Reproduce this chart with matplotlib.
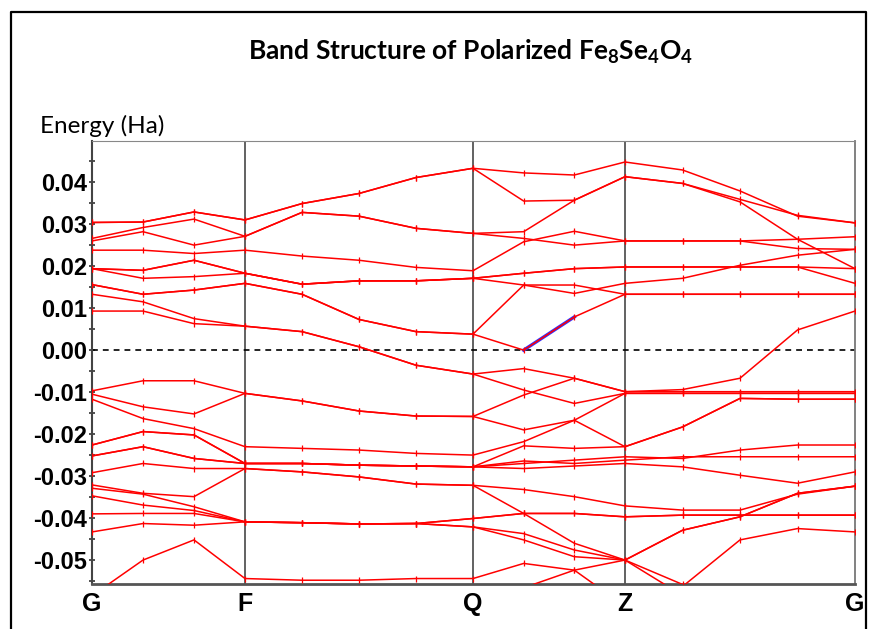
import numpy as np
import matplotlib
matplotlib.use("Agg")
import matplotlib.pyplot as plt
from matplotlib.lines import Line2D
from matplotlib.ticker import MultipleLocator, FuncFormatter

# high-symmetry path G-F-Q-Z-G and the number of k-steps sampled on each leg
k_labels = ["G", "F", "Q", "Z", "G"]
leg_lengths = [1.53, 2.28, 1.52, 2.30]
leg_steps = [3, 4, 3, 4]

# band energies (mHa) at the 15 sampled k-points, bands above the gap at G
bands_upper = [
    [30.4, 30.5, 32.9, 31.0, 34.9, 37.3, 41.1, 43.3, 42.2, 41.7, 44.8, 42.9, 37.9, 31.9, 30.3],
    [30.4, 30.5, 32.9, 31.0, 34.9, 37.3, 41.1, 43.3, 35.5, 35.7, 41.3, 39.7, 35.9, 32.1, 30.3],
    [26.6, 29.2, 31.2, 27.1, 32.8, 31.9, 29.0, 27.8, 28.2, 35.7, 41.3, 39.7, 35.3, 26.4, 19.4],
    [26.0, 28.2, 25.0, 27.1, 32.8, 31.9, 29.0, 27.8, 26.6, 25.0, 26.0, 26.0, 26.0, 26.4, 27.0],
    [23.8, 23.8, 23.0, 23.8, 22.4, 21.4, 19.7, 18.9, 25.8, 28.3, 26.0, 26.0, 26.0, 24.2, 24.0],
    [19.4, 19.0, 21.4, 18.3, 15.7, 16.5, 16.5, 17.1, 18.3, 19.4, 19.8, 19.8, 19.8, 19.8, 19.4],
    [19.4, 19.0, 21.4, 18.3, 15.7, 16.5, 16.5, 17.1, 18.3, 19.4, 19.8, 19.8, 19.8, 19.8, 15.9],
    [19.4, 17.1, 17.5, 18.3, 15.7, 16.5, 16.5, 17.1, 15.5, 13.5, 15.9, 17.1, 20.2, 22.6, 24.0],
    [15.6, 13.3, 14.3, 15.9, 13.3, 7.3, 4.4, 3.8, 15.5, 15.5, 13.3, 13.3, 13.3, 13.3, 13.3],
    [15.6, 13.3, 14.3, 15.9, 13.3, 7.3, 4.4, 3.8, 0.0, 7.9, 13.3, 13.3, 13.3, 13.3, 13.3],
    [13.3, 11.5, 7.5, 5.7, 4.4, 0.8, -3.6, -5.7, -4.4, -6.7, -9.9, -9.4, -6.7, 4.8, 9.3],
    [9.3, 9.3, 6.3, 5.7, 4.4, 0.8, -3.6, -5.7, -9.5, -12.7, -10.3, -10.3, -10.3, -10.3, -10.3],
]

# bands below the gap at G
bands_lower = [
    [-9.7, -7.3, -7.3, -10.3, -12.1, -14.5, -15.7, -15.8, -10.7, -6.7, -9.9, -9.9, -9.9, -9.9, -9.9],
    [-10.5, -13.5, -15.2, -10.3, -12.1, -14.5, -15.7, -15.8, -19.0, -16.7, -10.3, -10.3, -10.3, -10.3, -10.3],
    [-11.7, -16.3, -18.7, -23.0, -23.4, -23.8, -24.6, -25.0, -21.8, -16.7, -23.0, -18.3, -11.5, -11.7, -11.7],
    [-22.6, -19.4, -20.2, -27.0, -27.0, -27.4, -27.6, -27.8, -22.8, -23.4, -23.0, -18.3, -11.5, -11.7, -11.7],
    [-25.2, -23.0, -25.8, -27.0, -27.0, -27.4, -27.6, -27.8, -27.0, -26.2, -25.4, -25.8, -23.8, -22.6, -22.6],
    [-25.2, -23.0, -25.8, -27.0, -27.0, -27.4, -27.6, -27.8, -26.4, -27.0, -26.2, -25.4, -25.4, -25.4, -25.4],
    [-22.6, -19.4, -20.2, -27.0, -27.0, -27.4, -27.6, -27.8, -28.2, -27.6, -27.0, -27.8, -29.8, -31.7, -29.0],
    [-29.2, -27.0, -28.2, -28.2, -29.0, -30.2, -31.9, -32.2, -33.2, -34.9, -37.1, -38.1, -38.1, -34.3, -32.4],
    [-32.1, -34.1, -34.9, -28.2, -29.0, -30.2, -31.9, -32.2, -38.9, -46.0, -50.0, -42.9, -39.7, -34.1, -32.4],
    [-32.9, -34.3, -37.3, -40.9, -41.1, -41.4, -41.3, -40.1, -38.9, -38.9, -39.7, -39.3, -39.3, -39.3, -39.3],
    [-34.7, -36.9, -38.2, -40.9, -41.1, -41.4, -41.3, -42.1, -43.7, -47.6, -50.0, -58.4, -66.0, -72.0, -78.0],
    [-39.0, -38.9, -38.9, -40.9, -41.1, -41.4, -41.3, -42.1, -45.2, -49.2, -50.0, -55.8, -62.0, -68.0, -74.0],
    [-43.3, -41.3, -41.7, -40.9, -41.1, -41.4, -41.3, -40.1, -38.9, -38.9, -39.7, -39.3, -39.3, -39.3, -39.3],
    [-58.5, -50.0, -45.2, -54.4, -54.8, -54.8, -54.4, -54.4, -50.8, -52.4, -61.0, -68.0, -74.0, -80.0, -86.0],
    [-70.0, -70.0, -70.0, -70.0, -70.0, -70.0, -70.0, -66.0, -56.6, -52.4, -50.0, -42.9, -39.7, -34.1, -32.4],
    [-70.0, -70.0, -70.0, -70.0, -70.0, -70.0, -70.0, -70.0, -70.0, -70.0, -64.0, -56.3, -45.2, -42.5, -43.3],
]

# selected band (index into bands_upper) and the k-point span drawn highlighted
highlight_band = 9
highlight_span = (8, 9)

plt.rcParams["axes.unicode_minus"] = False
plt.rcParams["mathtext.fontset"] = "custom"
plt.rcParams["mathtext.rm"] = "Lato:bold"

nodes = np.concatenate([[0.0], np.cumsum(leg_lengths)])
kpts = np.concatenate([np.linspace(nodes[i], nodes[i + 1], n + 1)[:-1]
                       for i, n in enumerate(leg_steps)] + [nodes[-1:]])

W, H = 870, 629
fig = plt.figure(figsize=(W / 100, H / 100), dpi=100)
ax = fig.add_axes([92 / W, 1 - 584 / H, (855 - 92) / W, (584 - 141) / H])

for band in bands_upper + bands_lower:
    ax.plot(kpts, np.array(band) / 1000, color="#ff0000", lw=1.1,
            marker="|", ms=5, mew=0.9, zorder=3)

hb = np.array(bands_upper[highlight_band]) / 1000
i0, i1 = highlight_span
ax.plot(kpts[i0:i1 + 1], hb[i0:i1 + 1], color="#3030ff", lw=2.4, zorder=2.5)

for x in nodes[1:-1]:
    ax.axvline(x, color="#555555", lw=1.3, zorder=1)
ax.axhline(0, color="black", lw=1.2, ls=(0, (3.5, 3)), zorder=2)

ax.set_xlim(nodes[0], nodes[-1])
ax.set_ylim(-0.0557, 0.0498)

ax.yaxis.set_major_locator(MultipleLocator(0.01))
ax.yaxis.set_minor_locator(MultipleLocator(0.005))
ax.yaxis.set_major_formatter(FuncFormatter(lambda v, _: f"{0.0 if abs(v) < 1e-9 else v:.2f}"))
ax.tick_params(axis="y", which="both", direction="inout", length=5, width=1.2,
               color="#333333", pad=1)
ax.tick_params(axis="y", which="major", labelsize=17)
for lab in ax.get_yticklabels():
    lab.set_fontweight("bold")
    lab.set_family("Liberation Sans")

ax.set_xticks(nodes)
ax.set_xticklabels(k_labels, fontsize=18, fontweight="bold", family="Liberation Sans")
ax.tick_params(axis="x", length=0, pad=6)

ax.spines["left"].set_color("#444444")
ax.spines["left"].set_linewidth(1.5)
ax.spines["bottom"].set_color("#555555")
ax.spines["bottom"].set_linewidth(2.0)
ax.spines["top"].set_color("#888888")
ax.spines["right"].set_color("#777777")
ax.spines["right"].set_linewidth(1.3)

fig.text(471 / W, 1 - 60 / H, r"Band Structure of Polarized $\mathrm{Fe_8Se_4O_4}$",
         ha="center", va="baseline", fontsize=19, fontweight="bold", family="Lato")
fig.text(40 / W, 1 - 133 / H, "Energy (Ha)", ha="left", va="baseline",
         fontsize=17.5, family="Lato")

# outer frame around the figure
fig.add_artist(Line2D([11 / W, 11 / W, 866 / W, 866 / W], [0, 1 - 12 / H, 1 - 12 / H, 0],
                      transform=fig.transFigure, color="black", lw=1.6))

fig.savefig("out.png", dpi=100)
